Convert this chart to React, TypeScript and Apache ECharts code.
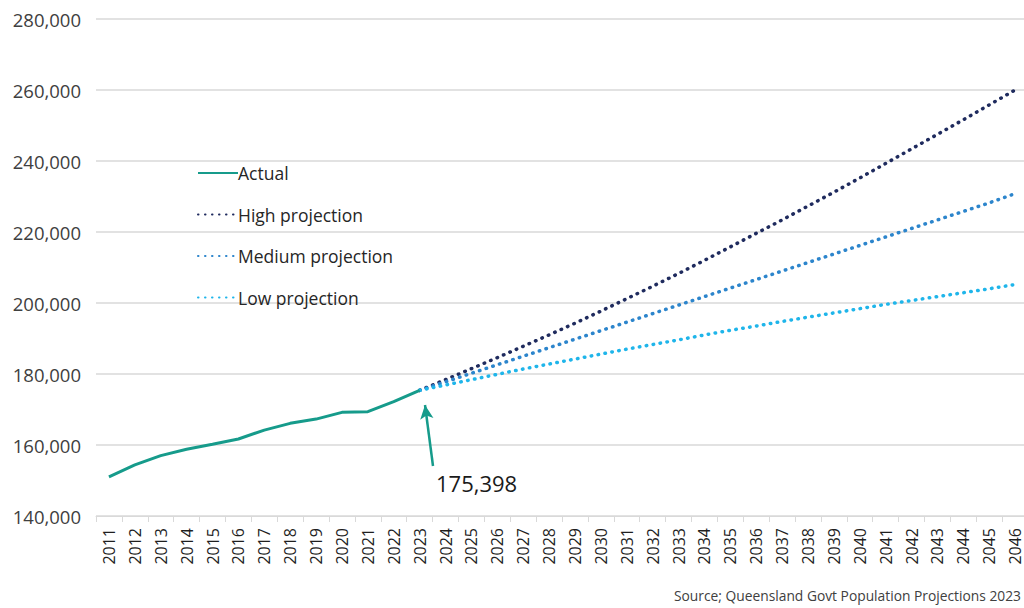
import React, { useEffect, useRef } from "react";
import * as echarts from "echarts";

const years: string[] = [];
for (let y = 2011; y <= 2046; y++) years.push(String(y));

const actualYears = ["2011","2012","2013","2014","2015","2016","2017","2018","2019","2020","2021","2022","2023"];
const actualValues = [151000, 154400, 157000, 158800, 160200, 161700, 164200, 166100, 167300, 169200, 169400, 172200, 175398];

const projYears = ["2023","2024","2025","2026","2027","2028","2029","2030","2031","2032","2033","2034","2035","2036","2037","2038","2039","2040","2041","2042","2043","2044","2045","2046"];
const highValues = [175398, 178400, 181500, 184600, 187800, 191000, 194300, 197700, 201200, 204700, 208300, 212000, 215800, 219600, 223400, 227300, 231200, 235200, 239300, 243400, 247500, 251600, 255800, 260000];
const mediumValues = [175398, 177800, 180200, 182600, 185000, 187400, 189800, 192200, 194600, 197000, 199400, 201800, 204200, 206600, 209000, 211400, 213800, 216200, 218600, 221000, 223400, 225800, 228200, 230800];
const lowValues = [175398, 176900, 178400, 179900, 181400, 182800, 184200, 185600, 187000, 188300, 189600, 191000, 192300, 193500, 194800, 196000, 197200, 198400, 199600, 200700, 201800, 202900, 204000, 205200];

const yMin = 140000;
const yMax = 280000;
const yStep = 20000;

const annotationText = "175,398";
const sourceText = "Source; Queensland Govt Population Projections 2023";

const FONT = "'Open Sans', 'Liberation Sans', sans-serif";

function toSeries(keys: string[], vals: number[]) {
  return years.map((y) => {
    const i = keys.indexOf(y);
    return i >= 0 ? vals[i] : null;
  });
}

function fmt(v: number) {
  return String(v).replace(/\B(?=(\d{3})+(?!\d))/g, ",");
}

export default function App() {
  const ref = useRef<HTMLDivElement>(null);
  useEffect(() => {
    if (!ref.current) return;
    const chart = echarts.init(ref.current, undefined, { renderer: "svg" });
    const dot = (color: string) => ({
      color,
      width: 3.5,
      type: [0.5, 6.5] as any,
      cap: "round" as const,
    });
    chart.setOption({
      animation: false,
      backgroundColor: "#ffffff",
      textStyle: { fontFamily: FONT },
      grid: { left: 96, right: 12, top: 19, bottom: 92, containLabel: false },
      legend: {
        orient: "vertical",
        left: 192,
        top: 159,
        itemWidth: 40,
        itemHeight: 14,
        itemGap: 23.5,
        itemStyle: { opacity: 0 },
        textStyle: { fontSize: 17.5, color: "#262626", fontFamily: FONT, padding: [0, 0, 0, -5] },
        data: ["Actual", "High projection", "Medium projection", "Low projection"],
      },
      xAxis: {
        type: "category",
        data: years,
        boundaryGap: true,
        axisLine: { lineStyle: { color: "#d9d9d9", width: 1 } },
        axisTick: { show: true, length: 6, lineStyle: { color: "#d9d9d9" } },
        axisLabel: { rotate: 90, interval: 0, fontSize: 16, color: "#1f1f1f", margin: 12, fontFamily: FONT },
        splitLine: { show: false },
      },
      yAxis: {
        type: "value",
        min: yMin,
        max: yMax,
        interval: yStep,
        axisLine: { show: false },
        axisTick: { show: false },
        axisLabel: { fontSize: 18.5, color: "#404040", margin: 15, fontFamily: FONT, formatter: (v: number) => fmt(v) },
        splitLine: { lineStyle: { color: "#d9d9d9", width: 1.5 } },
      },
      series: [
        {
          name: "Actual",
          type: "line",
          data: toSeries(actualYears, actualValues),
          symbol: "none",
          lineStyle: { color: "#169b8b", width: 3 },
          itemStyle: { color: "#169b8b" },
          z: 5,
          markLine: {
            silent: true,
            symbol: ["none", "arrow"],
            symbolSize: [10, 14],
            lineStyle: { color: "#169b8b", width: 2.5, type: "solid" },
            label: { show: false },
            data: [[{ x: 433, y: 466 }, { x: 425, y: 405 }]],
          },
        },
        {
          name: "High projection",
          type: "line",
          data: toSeries(projYears, highValues),
          symbol: "none",
          lineStyle: dot("#1f2b5e"),
          itemStyle: { color: "#1f2b5e" },
        },
        {
          name: "Medium projection",
          type: "line",
          data: toSeries(projYears, mediumValues),
          symbol: "none",
          lineStyle: dot("#2c85cc"),
          itemStyle: { color: "#2c85cc" },
        },
        {
          name: "Low projection",
          type: "line",
          data: toSeries(projYears, lowValues),
          symbol: "none",
          lineStyle: dot("#1fb5ea"),
          itemStyle: { color: "#1fb5ea" },
        },
      ],
      graphic: [
        {
          type: "text",
          left: 436,
          top: 472,
          style: { text: annotationText, fontSize: 22, fill: "#1a1a1a", fontFamily: FONT },
        },
        {
          type: "text",
          left: 674,
          top: 588,
          style: { text: sourceText, fontSize: 13.8, fill: "#404040", fontFamily: FONT },
        },
      ],
    });
    return () => chart.dispose();
  }, []);
  return (
    <div style={{ position: "fixed", left: 0, top: 0, width: 1024, height: 608, overflow: "hidden", background: "#fff" }}>
      <div ref={ref} style={{ width: 1040, height: 608 }} />
    </div>
  );
}
